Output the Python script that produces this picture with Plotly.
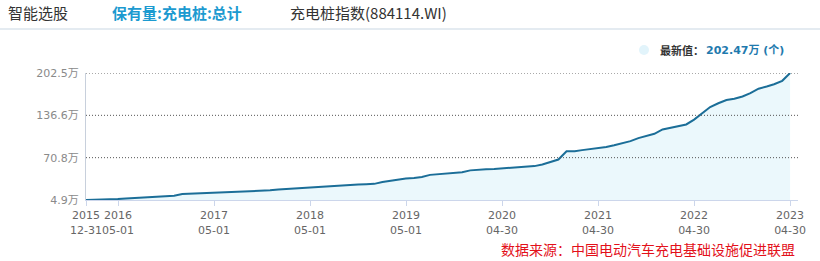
import pandas as pd
import plotly.graph_objects as go

# ---------------- data ----------------
dates = pd.date_range("2015-12-31", "2023-04-30", freq="ME")
values = [
    4.9,
    5.1, 5.3, 5.6, 6.4, 7.2, 7.9, 8.6, 9.3, 10.0, 10.7, 11.5, 14.1,
    14.6, 15.1, 15.5, 16.0, 16.5, 16.9, 17.4, 17.9, 18.3, 19.0, 20.0, 21.4,
    22.2, 23.0, 24.2, 25.3, 25.8, 26.4, 27.0, 27.7, 28.3, 28.9, 29.4, 30.0,
    32.8, 34.5, 37.5, 38.5, 39.3, 40.8, 44.0, 45.3, 46.1, 47.0, 48.0, 51.0,
    52.3, 52.8, 53.3, 54.0, 54.8, 55.5, 56.4, 57.6, 60.1, 63.6, 67.8, 80.7,
    80.9, 82.5, 84.0, 85.5, 87.4, 90.0, 93.3, 96.5, 101.2, 104.7, 107.9, 114.7,
    117.0, 119.8, 122.4, 130.0, 139.5, 149.5, 155.4, 160.5, 162.3, 166.0, 171.1, 178.0,
    181.5, 185.0, 190.3, 202.47,
]
x_tickvals = ["2015-12-31", "2016-05-01", "2017-05-01", "2018-05-01", "2019-05-01",
              "2020-04-30", "2021-04-30", "2022-04-30", "2023-04-30"]
x_ticktext = ["2015<br>12-31", "2016<br>05-01", "2017<br>05-01", "2018<br>05-01", "2019<br>05-01",
              "2020<br>04-30", "2021<br>04-30", "2022<br>04-30", "2023<br>04-30"]
y_tickvals = [4.9, 70.76, 136.62, 202.47]
y_ticktext = ["4.9万", "70.8万", "136.6万", "202.5万"]

# ---------------- layout geometry (pixels) ----------------
W, H = 820, 261
L, R, T, B = 86, 798, 73, 200


def px(xp):
    return (xp - L) / (R - L)


def py(yp):
    return (B - yp) / (B - T)


FONT = "DejaVu Sans, Noto Sans CJK SC, sans-serif"
CJK = "Noto Sans CJK SC, DejaVu Sans, sans-serif"

fig = go.Figure()
fig.add_trace(go.Scatter(
    x=dates, y=values, mode="lines",
    line=dict(color="#1b6e98", width=2),
    fill="tozeroy", fillcolor="#ebf8fc",
    hoverinfo="skip", showlegend=False,
))

shapes = []
for v in y_tickvals[1:]:
    shapes.append(dict(type="line", xref="paper", yref="y", x0=0, x1=1, y0=v, y1=v,
                       line=dict(color="#555555", width=1, dash="1px,2px"), layer="above"))
# header separator
shapes.append(dict(type="line", xref="paper", yref="paper", x0=px(0), x1=px(W),
                   y0=py(29), y1=py(29), line=dict(color="#dbe4ec", width=1.5)))
# legend marker
shapes.append(dict(type="circle", xref="paper", yref="paper",
                   x0=px(639), x1=px(649), y0=py(45), y1=py(55),
                   fillcolor="#e2f4fb", line=dict(width=0)))

annotations = [
    dict(text="智能选股", x=px(6), y=py(13), xanchor="left", yanchor="middle",
         font=dict(family=CJK, size=15, color="#333333")),
    dict(text="<b>保有量:充电桩:总计</b>", x=px(110), y=py(13), xanchor="left", yanchor="middle",
         font=dict(family=CJK, size=15, color="#1c9ad0")),
    dict(text="充电桩指数(884114.WI)", x=px(288), y=py(13), xanchor="left", yanchor="middle",
         font=dict(family=CJK, size=15, color="#333333")),
    dict(text="<b>最新值：</b>", x=px(658), y=py(50), xanchor="left", yanchor="middle",
         font=dict(family=CJK, size=11, color="#333333")),
    dict(text=f"<b>{values[-1]:.2f}万 (个)</b>", x=px(704), y=py(50), xanchor="left", yanchor="middle",
         font=dict(family=FONT, size=11, color="#1f7aae")),
    dict(text="数据来源：中国电动汽车充电基础设施促进联盟", x=px(797), y=py(249),
         xanchor="right", yanchor="middle",
         font=dict(family=CJK, size=14, color="#e3101a")),
]
for a in annotations:
    a.update(xref="paper", yref="paper", showarrow=False)

fig.update_layout(
    width=W, height=H,
    margin=dict(l=L, r=W - R, t=T, b=H - B),
    paper_bgcolor="white", plot_bgcolor="white",
    shapes=shapes, annotations=annotations,
    font=dict(family=FONT),
    xaxis=dict(
        type="date", range=["2015-12-31", "2023-05-30"],
        tickmode="array", tickvals=x_tickvals, ticktext=x_ticktext, tickangle=0,
        tickfont=dict(size=11, color="#666666", family=FONT),
        ticks="outside", ticklen=5, tickcolor="#ccd6eb",
        showline=True, linecolor="#ccd6eb", linewidth=1,
        showgrid=False, zeroline=False, fixedrange=True,
    ),
    yaxis=dict(
        range=[min(values), max(values)],
        tickmode="array", tickvals=y_tickvals, ticktext=y_ticktext,
        tickfont=dict(size=11, color="#8a8a8a", family=FONT),
        ticks="", ticklabelstandoff=4,
        showline=True, linecolor="#c8d0dc", linewidth=1,
        showgrid=False, zeroline=False, fixedrange=True,
    ),
)

fig.write_html("out.html", config={"displayModeBar": False})
